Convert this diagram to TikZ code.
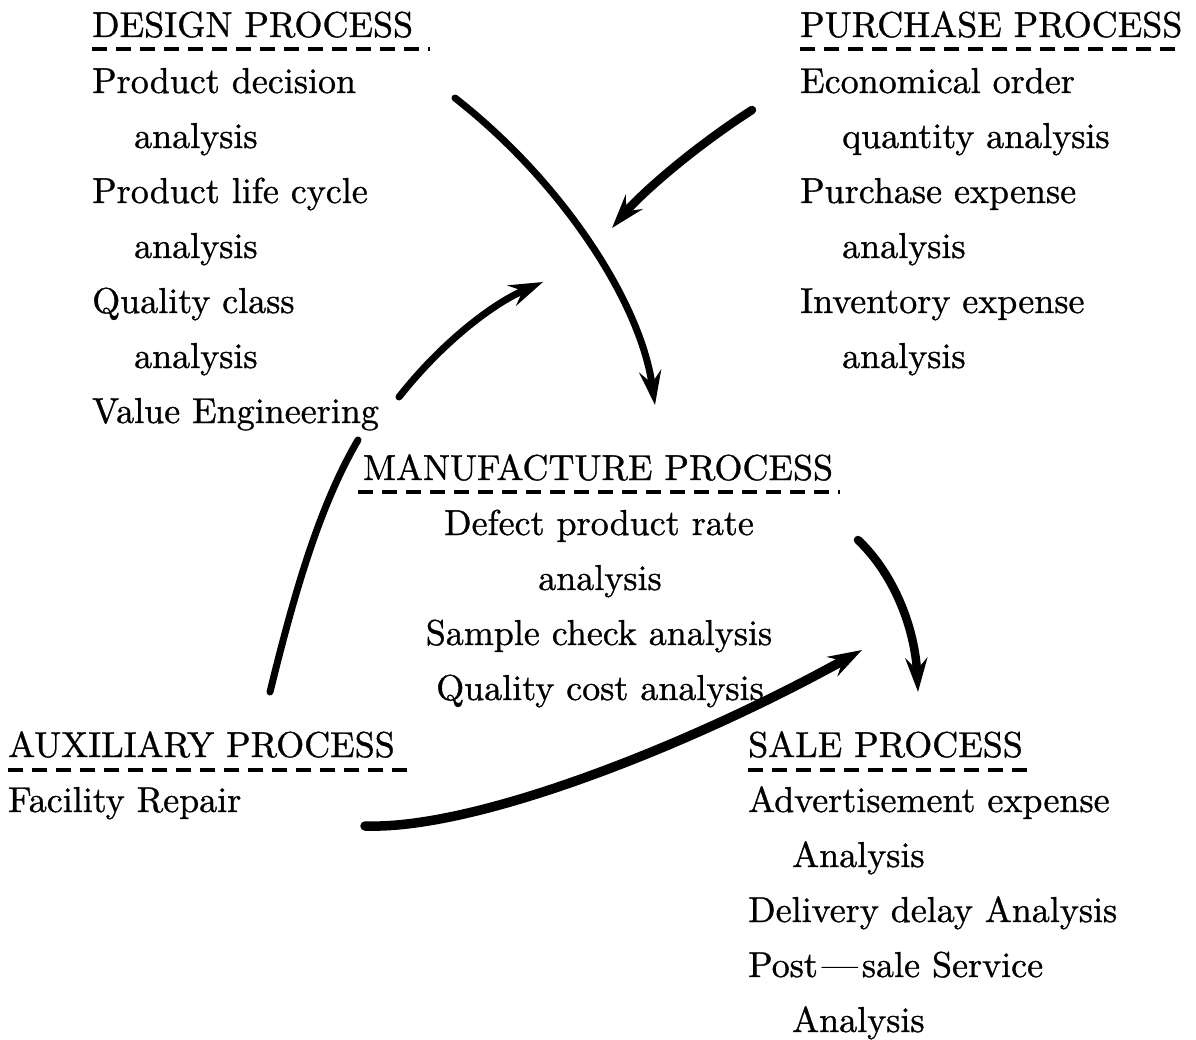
\documentclass[tikz,border=0pt]{standalone}
\usepackage{fontspec}
\setmainfont[FakeBold=0.9]{lmroman10-regular.otf}
\usetikzlibrary{arrows.meta}
\begin{document}
\begin{tikzpicture}[x=1pt,y=-1pt,
  txt/.style={anchor=base west, inner sep=0pt, font=\fontsize{36}{43}\selectfont},
  ctxt/.style={anchor=base, inner sep=0pt, font=\fontsize{36}{43}\selectfont},
  ul/.style={line width=3.5pt, dash pattern=on 15pt off 9pt},
  arr/.style={line width=7pt, line cap=round, -{Stealth[length=34pt,width=22pt,inset=12pt]}},
  seg/.style={line width=7pt, line cap=round},
]
\useasboundingbox (0,0) rectangle (1196,1040);

% DESIGN PROCESS
\node[txt] (dh) at (92,37) {DESIGN PROCESS};
\draw[ul] (92,49) -- (430,49);
\node[txt] (d1) at (92,93) {Product decision};
\node[txt] (d2) at (134,148) {analysis};
\node[txt] (d3) at (92,203) {Product life cycle};
\node[txt] (d4) at (134,258) {analysis};
\node[txt] (d5) at (92,313) {Quality class};
\node[txt] (d6) at (134,368) {analysis};
\node[txt] (d7) at (92,423) {Value Engineering};

% PURCHASE PROCESS
\node[txt] (ph) at (800,37) {PURCHASE PROCESS};
\draw[ul] (800,49) -- (1180,49);
\node[txt] (p1) at (800,93) {Economical order};
\node[txt] (p2) at (842,148) {quantity analysis};
\node[txt] (p3) at (800,203) {Purchase expense};
\node[txt] (p4) at (842,258) {analysis};
\node[txt] (p5) at (800,313) {Inventory expense};
\node[txt] (p6) at (842,368) {analysis};

% MANUFACTURE PROCESS
\node[ctxt] (mh) at (598,480) {MANUFACTURE PROCESS};
\draw[ul] (358,492) -- (840,492);
\node[ctxt] (m1) at (599,535) {Defect product rate};
\node[ctxt] (m2) at (600,590) {analysis};
\node[ctxt] (m3) at (599,645) {Sample check analysis};
\node[ctxt] (m4) at (600,700) {Quality cost analysis};

% AUXILIARY PROCESS
\node[txt] (ah) at (8,757) {AUXILIARY PROCESS};
\draw[ul] (8,770) -- (412,770);
\node[txt] (a1) at (8,812) {Facility Repair};

% SALE PROCESS
\node[txt] (sh) at (748,757) {SALE PROCESS};
\draw[ul] (748,770) -- (1032,770);
\node[txt] (s1) at (748,812) {Advertisement expense};
\node[txt] (s2) at (792,867) {Analysis};
\node[txt] (s3) at (748,922) {Delivery delay Analysis};
\node[txt] (s4) at (748,977) {Post\kern4pt---\kern4pt sale Service};
\node[txt] (s5) at (792,1032) {Analysis};

% arrow end points
\coordinate (dOut) at (455,98);
\coordinate (mIn) at (655,405);
\coordinate (pOut) at (752,110);
\coordinate (pIn) at (612,228);
\coordinate (aUp) at (270,692);
\coordinate (gapA) at (358,440);
\coordinate (gapB) at (399,397);
\coordinate (dIn) at (543,282);
\coordinate (mOut) at (858,540);
\coordinate (sIn) at (918,692);
\coordinate (aOut) at (365,826);
\coordinate (mIn2) at (862,650);

% connectors
\draw[arr] (dOut) .. controls (560,180) and (640,300) .. (mIn);
\draw[arr, line width=8.5pt] (pOut) .. controls (690,150) and (640,195) .. (pIn);
\draw[seg] (aUp) .. controls (295,590) and (320,505) .. (gapA);
\draw[arr] (gapB) .. controls (440,345) and (490,305) .. (dIn);
\draw[arr, line width=8.5pt] (mOut) .. controls (895,575) and (915,630) .. (sIn);
\draw[arr, line width=9.5pt] (aOut) .. controls (480,830) and (700,740) .. (mIn2);
\end{tikzpicture}
\end{document}
